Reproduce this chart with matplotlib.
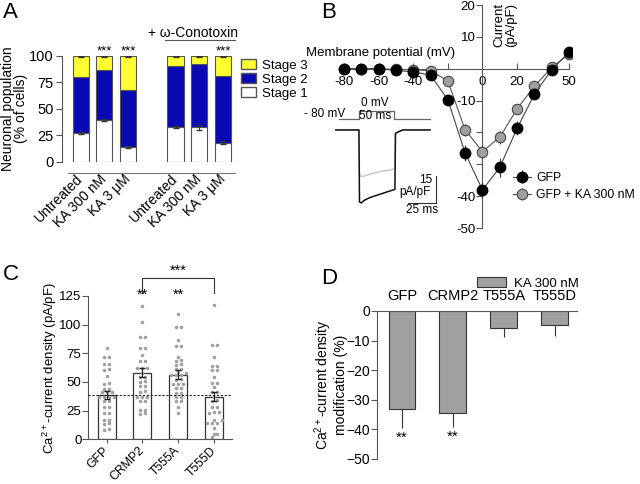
import numpy as np
import matplotlib
matplotlib.use('Agg')
import matplotlib.pyplot as plt
from matplotlib.patches import Patch
from matplotlib.lines import Line2D

plt.rcParams['font.family'] = ['Liberation Sans', 'DejaVu Sans']
plt.rcParams['mathtext.fontset'] = 'custom'
plt.rcParams['mathtext.rm'] = 'Liberation Sans'
plt.rcParams['mathtext.default'] = 'regular'

# ---- panel A: neuronal stages
a_labels = ['Untreated', 'KA 300 nM', 'KA 3 \u03bcM', 'Untreated', 'KA 300 nM', 'KA 3 \u03bcM']
a_stage1 = [27, 39, 13.5, 32.5, 32.5, 18]
a_stage1_err = [1, 1, 1, 1, 2.5, 1.5]
a_stage2 = [52.5, 47.5, 54.5, 58, 60, 63]
a_stage3_err = [1.5, 1.5, 1, 1.5, 1, 1]
a_stars = ['', '***', '***', '', '', '***']

# ---- panel B: I-V curves
b_volt = [-80, -70, -60, -50, -40, -30, -20, -10, 0, 10, 20, 30, 40, 50]
b_gfp = [0, 0, 0, -0.5, -1, -2, -9.7, -26.5, -38, -31, -18.7, -8, -0.3, 5.2]
b_gfp_err = [0.3, 0.3, 0.3, 0.4, 0.5, 0.6, 1.2, 2.5, 2.5, 3, 2.2, 1.5, 0.6, 0.6]
b_ka = [0, 0, 0, -0.2, -0.3, -0.6, -3.8, -19.2, -26, -21.5, -12.6, -5.5, 0.4, 4.6]
b_ka_err = [0.3, 0.3, 0.3, 0.3, 0.4, 0.5, 1.0, 2.0, 2.2, 2.0, 1.5, 1.0, 0.5, 0.5]

# inset traces (ms, pA/pF)
tr_t = [-21, 0, 0.5, 2, 5, 10, 20, 30, 32.7, 33.2, 36, 40, 64.5]
tr_black = [0, 0, -40, -40.5, -39, -37.5, -35.5, -33.5, -33, -2, -1, 0, 0]
tr_gray = [0, 0, -24, -26, -25.5, -24.5, -23, -22, -21.5, -1.5, -0.8, 0, 0]
step_t = [-18, 0, 0, 31.8, 31.8, 64.5]
step_v = [6, 6, 10.7, 10.7, 6, 6]

# ---- panel C: current density
c_groups = ['GFP', 'CRMP2', 'T555A', 'T555D']
c_mean = [38.5, 58, 56.5, 37]
c_sem = [3.5, 4, 3.5, 4]
c_points = [
    [80, 71.5, 71.5, 66, 66, 60, 61, 55, 48, 49, 44, 44, 41, 41, 41, 37, 37, 37, 37,
     33, 33, 28.5, 28.5, 22.7, 22.7, 17, 17, 14, 13.5, 9, 8.5],
    [116, 102, 89.5, 89, 80, 79.5, 73.5, 68, 68.5, 62, 62, 62, 57.5, 54.6, 54.6, 51, 50,
     46.5, 46.5, 42, 41.5, 37, 37, 37, 33, 33, 25.6, 25.6, 22.7, 22],
    [109, 97.7, 97.7, 87, 81.7, 81, 72, 68.8, 68.3, 65, 65.5, 61.5, 61, 58.5, 58, 56, 56, 56,
     52, 52.5, 48.5, 48.5, 48, 44.5, 44.5, 40, 40, 37, 37, 33, 33, 28.5, 22.7],
    [117, 81.8, 82.5, 72, 64, 63.5, 60, 60.5, 54.6, 49, 49.5, 46, 41.5, 41.5, 37, 34, 33.5,
     28.5, 28.5, 23.5, 23, 23.5, 17, 16.5, 14.5, 14.5, 14.5, 9.5, 5, 4.5, 2.3],
]

# ---- panel D: modification by KA
d_groups = ['GFP', 'CRMP2', 'T555A', 'T555D']
d_mod = [-33, -34.3, -5.7, -4.6]
d_err = [6.4, 4.8, 3, 3.8]
d_stars = ['**', '**', '', '']

W, H = 640, 484


def fx(px):
    return px / W


def fy(py):
    return 1 - py / H


def swarm(vals, tol=2.2, step=0.14):
    vals = np.asarray(vals, dtype=float)
    order = np.argsort(vals)
    offs = np.zeros(len(vals))
    rows, row = [], [order[0]]
    for i in order[1:]:
        if vals[i] - vals[row[0]] <= tol:
            row.append(i)
        else:
            rows.append(row)
            row = [i]
    rows.append(row)
    for r in rows:
        k = len(r)
        offs[r] = (np.arange(k) - (k - 1) / 2.) * step
    return offs


fig = plt.figure(figsize=(6.4, 4.84), dpi=100)

# ================= A
axA = fig.add_axes([0.0964, 0.6659, 0.2705, 0.219])
pos = [0, 1, 2, 4, 5, 6]
yellow, blue = '#ffff33', '#0a0ab4'
s12 = np.array(a_stage1) + np.array(a_stage2)
axA.bar(pos, a_stage1, 0.68, color='white', edgecolor='#555555', lw=0.8)
axA.bar(pos, a_stage2, 0.68, bottom=a_stage1, color=blue, edgecolor='#555555', lw=0.8)
axA.bar(pos, 100 - s12, 0.68, bottom=s12, color=yellow, edgecolor='#555555', lw=0.8)
axA.errorbar(pos, a_stage1, yerr=a_stage1_err, fmt='none', ecolor='#333333',
             elinewidth=0.7, capsize=2.5)
axA.errorbar(pos, [100] * 6, yerr=[a_stage3_err, [0] * 6], fmt='none', ecolor='#333333',
             elinewidth=0.7, capsize=2.5)
for p, s in zip(pos, a_stars):
    if s:
        axA.text(p, 104, s, ha='center', va='center', fontsize=9.5)
axA.set_xlim(-0.8, 6.5)
axA.set_ylim(0, 100)
axA.set_yticks([0, 25, 50, 75, 100])
axA.tick_params(axis='y', labelsize=10.5, length=4, width=0.8, color='#555555', pad=2)
axA.set_xticks(pos)
axA.set_xticklabels(a_labels, rotation=45, ha='right', va='center',
                    rotation_mode='anchor', fontsize=10)
axA.tick_params(axis='x', length=0, pad=11)
for sp in ['top', 'right', 'bottom']:
    axA.spines[sp].set_visible(False)
axA.spines['left'].set_color('#555555')
axA.plot([-0.53, 6.5], [-10.4, -10.4], color='#777777', lw=0.8, clip_on=False)
axA.set_ylabel('Neuronal population\n(% of cells)', fontsize=10, linespacing=0.9)
# label coords give the label's right edge
axA.yaxis.set_label_coords(-0.195, 0.5)
fig.text(fx(148), fy(33), '+ \u03c9-Conotoxin', fontsize=10, ha='left', va='center')
fig.add_artist(Line2D([fx(165), fx(235)], [fy(40), fy(40)], color='#555555', lw=0.8))
axA.legend(handles=[Patch(facecolor=yellow, edgecolor='#555555', label='Stage 3'),
                    Patch(facecolor=blue, edgecolor='#555555', label='Stage 2'),
                    Patch(facecolor='white', edgecolor='#555555', label='Stage 1')],
           loc='upper left', bbox_to_anchor=(fx(236), fy(54)), bbox_transform=fig.transFigure,
           frameon=False, fontsize=9.5, handlelength=1.1, handleheight=0.8,
           labelspacing=0.1, handletextpad=0.5, borderaxespad=0)

# ================= B
axB = fig.add_axes([0.5239, 0.5289, 0.3706, 0.4607])
axB.errorbar(b_volt, b_ka, yerr=b_ka_err, color='#555555', lw=0.8, marker='o', ms=7.5,
             mfc='#a0a0a0', mec='#444444', mew=0.8, ecolor='#444444', elinewidth=0.8,
             capsize=0, label='GFP + KA 300 nM', zorder=3)
axB.errorbar(b_volt, b_gfp, yerr=b_gfp_err, color='#444444', lw=0.8, marker='o', ms=7.5,
             mfc='black', mec='black', ecolor='#333333', elinewidth=0.8, capsize=0,
             label='GFP', zorder=4)
axB.set_xlim(-85, 52)
axB.set_ylim(-50, 20)
for sp in ['top', 'right']:
    axB.spines[sp].set_visible(False)
axB.spines['left'].set_position(('data', 0))
axB.spines['bottom'].set_position(('data', 0))
axB.spines['bottom'].set_bounds(-80, 50)
for sp in ['left', 'bottom']:
    axB.spines[sp].set_color('#555555')
axB.set_xticks([-80, -60, -40, -20, 0, 20, 40, 50])
axB.set_xticklabels(['-80', '-60', '-40', '', '0', '20', '', '50'])
axB.set_yticks([-50, -40, -30, -20, -10, 0, 10, 20])
axB.set_yticklabels(['-50', '-40', '', '', '-10', '', '10', '20'])
axB.tick_params(axis='x', direction='in', length=4, width=0.8, color='#555555',
                labelsize=9.5, pad=5)
axB.tick_params(axis='y', direction='out', length=4, width=0.8, color='#555555',
                labelsize=9.5, pad=1)
fig.text(fx(381), fy(53), 'Membrane potential (mV)', fontsize=9.5, ha='center', va='center')
fig.text(fx(505), fy(25), 'Current\n(pA/pF)', fontsize=9.5, rotation=90, ha='center',
         va='center', linespacing=1.0)
hb, lb = axB.get_legend_handles_labels()
axB.legend(hb[::-1], lb[::-1], loc='upper left', bbox_to_anchor=(fx(508), fy(167)),
           bbox_transform=fig.transFigure, frameon=False, fontsize=8.8,
           handlelength=1.5, handletextpad=0.4, labelspacing=0.45, borderaxespad=0)

# inset traces
axI = fig.add_axes([fx(305), fy(215), fx(445) - fx(305), (215 - 95) / H])
axI.set_xlim(-49, 78.2)
axI.set_ylim(-47.2, 19.4)
axI.axis('off')
axI.patch.set_alpha(0)
axI.plot(step_t, step_v, color='#666666', lw=0.9)
axI.plot(tr_t, tr_gray, color='#c8c8c8', lw=1.1)
axI.plot(tr_t, tr_black, color='#111111', lw=1.1)
axI.plot([70, 70], [-25.6, -40.7], color='#333333', lw=0.8)
axI.plot([45, 70], [-40.7, -40.7], color='#333333', lw=0.8)
axI.text(14.5, 15, '0 mV', fontsize=8.5, ha='center', va='center')
axI.text(14.5, 7.6, '50 ms', fontsize=8.5, ha='center', va='center')
axI.text(-12.7, 8.9, '- 80 mV', fontsize=8.5, ha='right', va='center', clip_on=False)
axI.text(66.5, -27.8, '15', fontsize=8.5, ha='right', va='center')
axI.text(51, -34.3, 'pA/pF', fontsize=8.5, ha='center', va='center')
axI.text(57.5, -44.5, '25 ms', fontsize=8.5, ha='center', va='center')

# ================= C
axC = fig.add_axes([0.138, 0.0924, 0.2245, 0.2961])
xc = np.arange(len(c_groups))
axC.bar(xc, c_mean, 0.5, color='white', edgecolor='#333333', lw=0.9, zorder=1)
for i, pts in enumerate(c_points):
    axC.scatter(i + swarm(pts), pts, s=6.5, color='#a0a0a0', lw=0, zorder=2)
axC.errorbar(xc, c_mean, yerr=c_sem, fmt='none', ecolor='#222222', elinewidth=0.8,
             capsize=2, zorder=3)
axC.axhline(c_mean[0], color='#222222', lw=0.8, ls=(0, (2, 1.5)), zorder=4)
axC.set_xlim(-0.51, 3.5)
axC.set_ylim(0, 125)
axC.set_yticks([0, 25, 50, 75, 100, 125])
for sp in ['top', 'right']:
    axC.spines[sp].set_visible(False)
for sp in ['left', 'bottom']:
    axC.spines[sp].set_color('#555555')
axC.tick_params(axis='y', labelsize=9.5, length=4, width=0.8, color='#555555', pad=1)
axC.set_xticks(xc)
axC.set_xticklabels(c_groups, rotation=45, ha='right', va='center',
                    rotation_mode='anchor', fontsize=8.8)
axC.tick_params(axis='x', length=3, width=0.8, color='#555555', pad=4)
axC.text(1, 126, '**', ha='center', va='center', fontsize=10.5)
axC.text(2, 126, '**', ha='center', va='center', fontsize=10.5)
axC.plot([1, 1, 3, 3], [127.4, 140.5, 140.5, 127.4], color='#333333', lw=0.8, clip_on=False)
axC.text(2, 147, '***', ha='center', va='center', fontsize=10.5)
axC.set_ylabel('Ca$^{2+}$-current density (pA/pF)', fontsize=9.5)
axC.yaxis.set_label_coords(-0.205, 0.5)

# ================= D
axD = fig.add_axes([0.5895, 0.0517, 0.312, 0.3058])
xd = np.arange(len(d_groups))
axD.bar(xd, d_mod, 0.53, color='#a0a0a0', edgecolor='#333333', lw=0.8,
        label='KA 300 nM', zorder=2)
axD.errorbar(xd, d_mod, yerr=[d_err, [0] * 4], fmt='none', ecolor='#333333',
             elinewidth=0.8, capsize=0, zorder=1)
for x, s, m, e in zip(xd, d_stars, d_mod, d_err):
    if s:
        axD.text(x, m - e - 3.5, s, ha='center', va='center', fontsize=11)
axD.set_xlim(-0.486, 3.44)
axD.set_ylim(-50, 0)
axD.set_yticks([-50, -40, -30, -20, -10, 0])
axD.spines['right'].set_visible(False)
axD.spines['bottom'].set_visible(False)
for sp in ['left', 'top']:
    axD.spines[sp].set_color('#555555')
axD.xaxis.tick_top()
axD.set_xticks(xd)
axD.set_xticklabels(d_groups, fontsize=10.5)
axD.tick_params(axis='x', length=0, pad=6)
axD.tick_params(axis='y', labelsize=10, length=4, width=0.8, color='#555555', pad=1)
axD.set_ylabel('Ca$^{2+}$-current density\nmodification (%)', fontsize=10,
               linespacing=1.0)
axD.yaxis.set_label_coords(-0.147, 0.5)
axD.legend(loc='upper left', bbox_to_anchor=(fx(472), fy(272)), bbox_transform=fig.transFigure,
           frameon=False, fontsize=9.5, handlelength=2.2, handleheight=0.8,
           handletextpad=0.6, borderaxespad=0)

# panel letters
for lbl, px, py in [('A', 3, 13), ('B', 321, 12), ('C', 3, 275), ('D', 321, 279)]:
    fig.text(fx(px), fy(py), lbl, fontsize=16, ha='left', va='center')

fig.savefig('out.png', dpi=100)
